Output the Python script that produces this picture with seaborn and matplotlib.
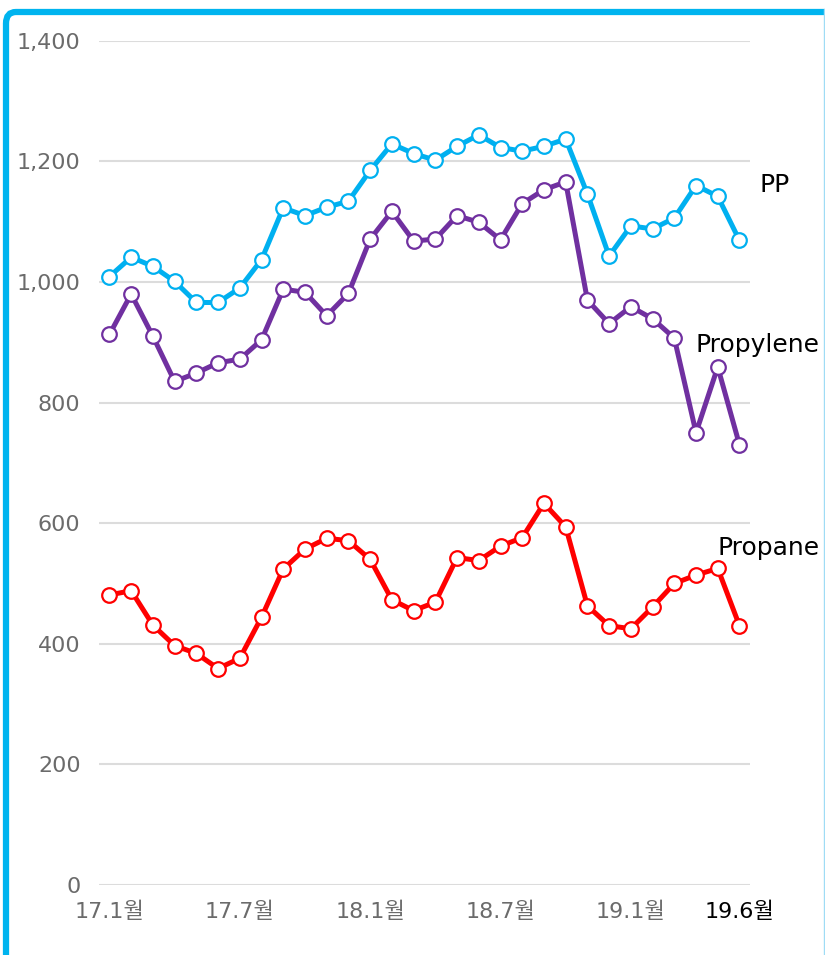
import pandas as pd
import seaborn as sns
from matplotlib import pyplot as plt
from matplotlib.patches import FancyBboxPatch
from matplotlib.lines import Line2D

months = ['17.1', '17.2', '17.3', '17.4', '17.5', '17.6', '17.7', '17.8', '17.9', '17.10',
          '17.11', '17.12', '18.1', '18.2', '18.3', '18.4', '18.5', '18.6', '18.7', '18.8',
          '18.9', '18.10', '18.11', '18.12', '19.1', '19.2', '19.3', '19.4', '19.5', '19.6']
pp = [1009, 1041, 1026, 1001, 966, 966, 990, 1037, 1123, 1110,
      1124, 1134, 1185, 1229, 1213, 1202, 1225, 1244, 1223, 1217,
      1225, 1237, 1146, 1043, 1093, 1088, 1106, 1160, 1142, 1069]
propylene = [913, 980, 910, 835, 849, 866, 872, 904, 988, 983,
             944, 981, 1071, 1117, 1068, 1071, 1110, 1099, 1070, 1130,
             1153, 1166, 970, 931, 959, 939, 907, 750, 859, 730]
propane = [481, 488, 431, 397, 384, 359, 376, 444, 524, 557,
           575, 571, 540, 473, 455, 469, 543, 538, 562, 576,
           633, 594, 463, 430, 425, 461, 500, 514, 525, 430]
tick_months = ['17.1', '17.7', '18.1', '18.7', '19.1', '19.6']
yticks = [0, 200, 400, 600, 800, 1000, 1200, 1400]

series = {'PP': pp, 'Propylene': propylene, 'Propane': propane}
colors = {'PP': '#00b0f0', 'Propylene': '#7030a0', 'Propane': '#ff0000'}

rows = []
for name, vals in series.items():
    for i, v in enumerate(vals):
        rows.append([name, i, v])
df = pd.DataFrame.from_records(rows, columns=['item', 'idx', 'price'])

sns.set_theme(style='white')
plt.rcParams['font.family'] = ['DejaVu Sans', 'Noto Sans CJK KR']

fig = plt.figure(figsize=(8.25, 9.55), dpi=100)
ax = fig.add_axes([0.1195, 0.0733, 0.790, 0.884])

# frame around the chart (right and bottom parts run off the picture)
fig.patches.append(FancyBboxPatch((6 / 825, -0.05), 1.1, 1.05 - 12 / 955,
                                  boxstyle='round,pad=0,rounding_size=0.012',
                                  transform=fig.transFigure, fill=False,
                                  edgecolor='#00b4ef', linewidth=4.5, zorder=0))
fig.lines.append(Line2D([823.5 / 825, 823.5 / 825], [0, 1 - 9 / 955], transform=fig.transFigure,
                        color='#9fdcf5', linewidth=1))

for name in series:
    sub = df[df['item'] == name]
    sns.lineplot(data=sub, x='idx', y='price', ax=ax, color=colors[name],
                 linewidth=3.6, marker='o', markersize=10.5, markerfacecolor='white',
                 markeredgecolor=colors[name], markeredgewidth=1.6, clip_on=False)

ax.set_xlim(-0.5, 29.5)
ax.set_ylim(0, 1400)
ax.set_yticks(yticks)
ax.set_yticklabels([f'{v:,}' for v in yticks])
ax.set_xticks([months.index(m) for m in tick_months])
ax.set_xticklabels([m + '월' for m in tick_months])
ax.set_xlabel('')
ax.set_ylabel('')
ax.grid(axis='y', color='#dcdcdc', linewidth=1.5)
ax.set_axisbelow(True)
for s in ax.spines.values():
    s.set_visible(False)
ax.tick_params(axis='y', length=0, pad=13, labelsize=16, labelcolor='#6b6b6b')
ax.tick_params(axis='x', length=0, pad=12, labelsize=16, labelcolor='#6b6b6b')
ax.get_xticklabels()[-1].set_color('black')

lbl = {'PP': (760, 185), 'Propylene': (695, 345), 'Propane': (717, 548)}
for name, (px, py) in lbl.items():
    fig.text(px / 825, 1 - py / 955, name, fontsize=18, color='black', va='center', ha='left')

fig.savefig('out.png', dpi=100)
